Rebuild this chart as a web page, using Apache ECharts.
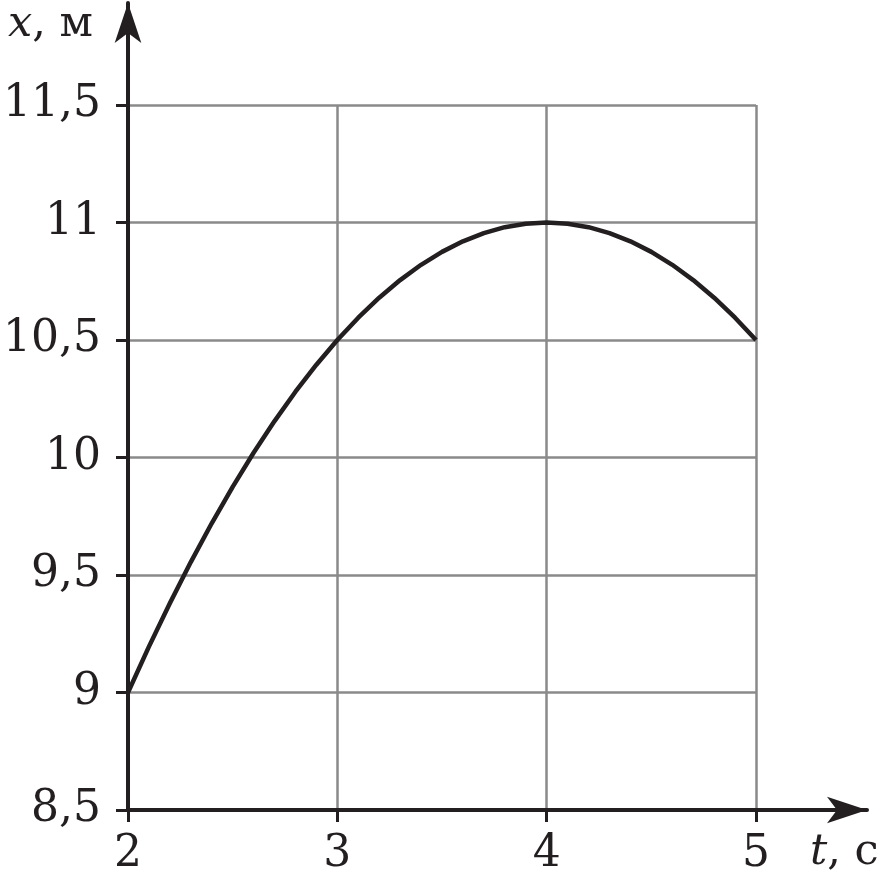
<!DOCTYPE html>
<html>
<head>
<meta charset="utf-8">
<script src="https://cdn.jsdelivr.net/npm/echarts@6/dist/echarts.min.js"></script>
<style>html,body{margin:0;padding:0;background:#fff}#c{width:885px;height:874px}</style>
</head>
<body>
<div id="c"></div>
<script>
// Data
const tValues = [2, 2.1, 2.2, 2.3, 2.4, 2.5, 2.6, 2.7, 2.8, 2.9,
                 3, 3.1, 3.2, 3.3, 3.4, 3.5, 3.6, 3.7, 3.8, 3.9,
                 4, 4.1, 4.2, 4.3, 4.4, 4.5, 4.6, 4.7, 4.8, 4.9, 5];
const xValues = [9, 9.195, 9.38, 9.555, 9.72, 9.875, 10.02, 10.155, 10.28, 10.395,
                 10.5, 10.595, 10.68, 10.755, 10.82, 10.875, 10.92, 10.955, 10.98, 10.995,
                 11, 10.995, 10.98, 10.955, 10.92, 10.875, 10.82, 10.755, 10.68, 10.595, 10.5];
const xTickLabels = ['2', '3', '4', '5'];
const yTickValues = [8.5, 9, 9.5, 10, 10.5, 11, 11.5];
const yTickLabels = ['8,5', '9', '9,5', '10', '10,5', '11', '11,5'];
const xName = 't';
const xUnit = 'c';
const yName = 'x';
const yUnit = 'м';

const FONT = 'DejaVu Serif';
const INK = '#231f20';
const GRIDC = '#8a8a8a';

const chart = echarts.init(document.getElementById('c'), null, {renderer: 'canvas'});
const points = tValues.map((t, i) => [t, xValues[i]]);

chart.setOption({
  animation: false,
  backgroundColor: '#fff',
  grid: [
    {left: 128, right: 129, top: 105, bottom: 64, containLabel: false, outerBoundsMode: 'none'},
    {left: 128, right: 18, top: 3, bottom: 64, containLabel: false, outerBoundsMode: 'none'}
  ],
  xAxis: [
    {
      gridIndex: 0, type: 'value', min: 2, max: 5, interval: 1,
      axisLine: {show: false},
      axisTick: {show: true, inside: false, length: 12, lineStyle: {color: INK, width: 3}},
      axisLabel: {
        margin: 23, color: INK, fontFamily: FONT, fontSize: 44,
        formatter: v => xTickLabels[Math.round(v - 2)]
      },
      splitLine: {show: true, showMinLine: false, lineStyle: {color: GRIDC, width: 2.5}}
    },
    {
      gridIndex: 1, type: 'value', min: 0, max: 1,
      axisLine: {show: true, symbol: ['none', 'arrow'], symbolSize: [20, 40], lineStyle: {color: INK, width: 4}},
      axisTick: {show: false}, axisLabel: {show: false}, splitLine: {show: false}
    }
  ],
  yAxis: [
    {
      gridIndex: 0, type: 'value', min: 8.5, max: 11.5, interval: 0.5,
      axisLine: {show: false},
      axisTick: {show: true, inside: false, length: 12, lineStyle: {color: INK, width: 3}},
      axisLabel: {
        margin: 27, color: INK, fontFamily: FONT, fontSize: 44,
        formatter: v => yTickLabels[yTickValues.findIndex(y => Math.abs(y - v) < 1e-6)]
      },
      splitLine: {show: true, showMinLine: false, lineStyle: {color: GRIDC, width: 2.5}}
    },
    {
      gridIndex: 1, type: 'value', min: 0, max: 1,
      axisLine: {show: true, symbol: ['none', 'arrow'], symbolSize: [20, 40], lineStyle: {color: INK, width: 4}},
      axisTick: {show: false}, axisLabel: {show: false}, splitLine: {show: false}
    }
  ],
  graphic: [
    {
      type: 'text', left: 8, top: 3, z: 10,
      style: {
        text: '{i|' + yName + '}{r|, ' + yUnit + '}',
        rich: {
          i: {fontFamily: FONT, fontStyle: 'italic', fontSize: 43, fill: INK},
          r: {fontFamily: FONT, fontSize: 43, fill: INK}
        }
      }
    },
    {
      type: 'text', left: 810, top: 831, z: 10,
      style: {
        text: '{i|' + xName + '}{r|, ' + xUnit + '}',
        rich: {
          i: {fontFamily: FONT, fontStyle: 'italic', fontSize: 43, fill: INK},
          r: {fontFamily: FONT, fontSize: 43, fill: INK}
        }
      }
    }
  ],
  series: [{
    type: 'line', xAxisIndex: 0, yAxisIndex: 0,
    data: points, smooth: false, showSymbol: false, symbol: 'none',
    lineStyle: {color: INK, width: 4.5, join: 'round'}, z: 5
  }]
});
</script>
</body>
</html>
